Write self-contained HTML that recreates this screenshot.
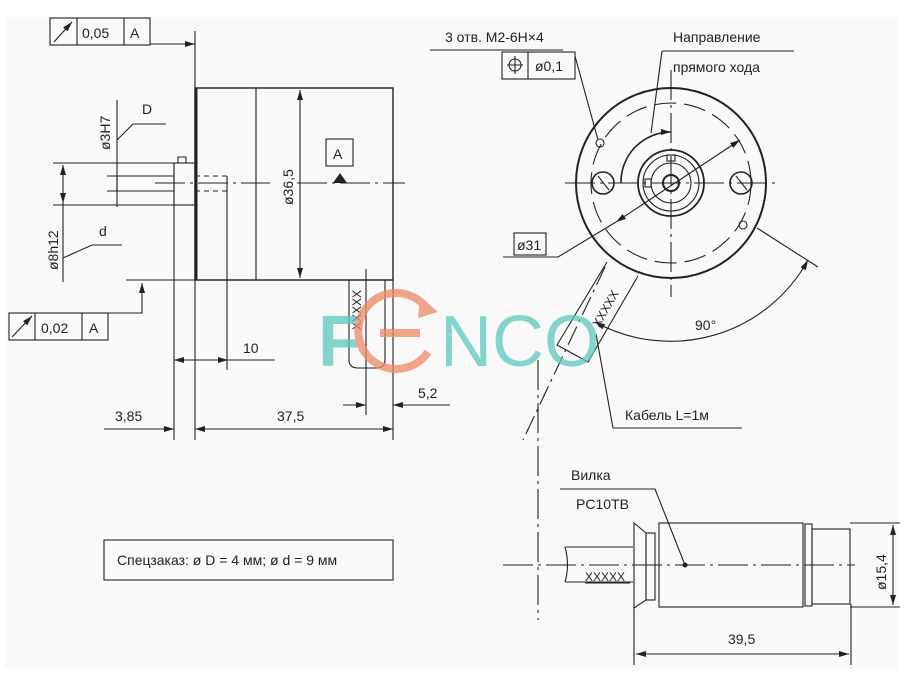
<!DOCTYPE html>
<html><head><meta charset="utf-8"><style>
html,body{margin:0;padding:0;background:#fff;}
svg{display:block;}
text{font-family:"Liberation Sans","DejaVu Sans",sans-serif;fill:#222;}
</style></head><body>
<svg width="912" height="678" viewBox="0 0 912 678" xmlns="http://www.w3.org/2000/svg">
<defs>
<marker id="ar" viewBox="0 0 10 6" refX="10" refY="3" markerWidth="10" markerHeight="6" orient="auto-start-reverse" markerUnits="userSpaceOnUse"><path d="M0,0L10,3L0,6z" fill="#222"/></marker>
</defs>
<rect x="5" y="17" width="893" height="652" fill="#f9f9f9"/>
<g stroke="#222" stroke-width="1.1" fill="none">
<!-- top frame -->
<rect x="50" y="18" width="100" height="27"/><line x1="77" y1="18" x2="77" y2="45"/><line x1="124" y1="18" x2="124" y2="45"/>
<line x1="54" y1="42" x2="72" y2="22" marker-end="url(#ar)"/>
<line x1="150" y1="44" x2="195" y2="44" marker-end="url(#ar)"/>
<line x1="195" y1="31" x2="195" y2="440"/>
<!-- body -->
<rect x="195" y="88" width="198" height="192" stroke-width="1.4"/>
<line x1="196" y1="88" x2="196" y2="280" stroke-width="3"/>
<line x1="256" y1="88" x2="256" y2="280"/>
<line x1="300" y1="90" x2="300" y2="278" marker-start="url(#ar)" marker-end="url(#ar)"/>
<rect x="326" y="139" width="27" height="27"/>
<line x1="155" y1="183" x2="270" y2="183" stroke-dasharray="30,5,3,5"/>
<line x1="297" y1="183" x2="405" y2="183" stroke-dasharray="30,5,3,5"/>
<!-- shaft -->
<rect x="174" y="163" width="21" height="42"/>
<path d="M178,163V157H186V163"/>
<line x1="107" y1="176" x2="174" y2="176"/><line x1="107" y1="191" x2="174" y2="191"/>
<path d="M195,176H228M195,191H228" stroke-dasharray="5,4"/>
<line x1="227" y1="176" x2="227" y2="370"/>
<!-- phi3H7 -->
<line x1="117" y1="100" x2="117" y2="207"/>
<line x1="117" y1="176" x2="117" y2="191"/>
<path d="M117,140L133,124H166"/>
<!-- phi8h12 -->
<line x1="53" y1="163" x2="174" y2="163"/><line x1="53" y1="205" x2="195" y2="205"/>
<line x1="63" y1="165" x2="63" y2="203" marker-start="url(#ar)" marker-end="url(#ar)"/>
<line x1="63" y1="203" x2="63" y2="282"/>
<path d="M63,258L92,245H122"/>
<line x1="126" y1="280" x2="195" y2="280"/>
<path d="M108,313H142V283" marker-end="url(#ar)"/>
<rect x="9" y="313" width="99" height="27"/><line x1="35" y1="313" x2="35" y2="340"/><line x1="82" y1="313" x2="82" y2="340"/>
<line x1="12" y1="337" x2="32" y2="316" marker-end="url(#ar)"/>
<line x1="174" y1="163" x2="174" y2="440"/>
<!-- dim 10 -->
<line x1="174" y1="360" x2="228" y2="360" marker-start="url(#ar)" marker-end="url(#ar)"/>
<line x1="228" y1="360" x2="275" y2="360"/>
<!-- cable tab -->
<path d="M349,280V360Q349,368 358,368H376Q385,368 385,360V280"/>
<line x1="366" y1="269" x2="366" y2="415"/>
<line x1="343" y1="405" x2="366" y2="405" marker-end="url(#ar)"/>
<line x1="393" y1="405" x2="450" y2="405" marker-start="url(#ar)"/>
<!-- 3,85 / 37,5 -->
<line x1="104" y1="429" x2="174" y2="429" marker-end="url(#ar)"/>
<line x1="195" y1="429" x2="393" y2="429" marker-start="url(#ar)" marker-end="url(#ar)"/>
<line x1="393" y1="280" x2="393" y2="440"/>
<!-- spec box -->
<rect x="104" y="540" width="289" height="40"/>
<!-- right view -->
<circle cx="671" cy="183" r="95" stroke-width="2"/>
<circle cx="671" cy="183" r="80" stroke-dasharray="22,8"/>
<circle cx="671" cy="183" r="33" stroke-width="1.8"/>
<circle cx="671" cy="183" r="28"/>
<circle cx="671" cy="183" r="20"/>
<circle cx="671" cy="183" r="8" stroke-width="2"/>
<rect x="667" y="155" width="8" height="6"/><rect x="645" y="179" width="6" height="8"/>
<circle cx="603" cy="183" r="11" stroke-width="1.6"/><line x1="598" y1="176" x2="609" y2="190"/>
<circle cx="741" cy="183" r="11" stroke-width="1.6"/><line x1="736" y1="176" x2="747" y2="190"/>
<circle cx="600" cy="143" r="4"/><circle cx="743" cy="225" r="4"/>
<line x1="565" y1="183" x2="780" y2="183" stroke-dasharray="30,5,3,5"/>
<line x1="671" y1="70" x2="671" y2="297" stroke-dasharray="30,5,3,5"/>
<line x1="430" y1="50" x2="563" y2="50"/>
<rect x="502" y="52" width="73" height="27"/><line x1="528" y1="52" x2="528" y2="79"/>
<circle cx="515" cy="65" r="6"/><path d="M507,65H523M515,56V74"/>
<line x1="575" y1="56" x2="598" y2="140"/>
<line x1="662" y1="51" x2="794" y2="51"/>
<path d="M662,51L651,133"/>
<path d="M621,183A50,50 0 0 1 671,132" marker-end="url(#ar)" stroke-width="1.6"/>
<rect x="514" y="233" width="32" height="22"/>
<path d="M503,257H558L616,222"/>
<line x1="616" y1="222" x2="740" y2="140" marker-start="url(#ar)" marker-end="url(#ar)"/>
<!-- cable -->
<path d="M607,262L557,345L588,362L638,276"/>
<line x1="605" y1="267" x2="523" y2="440" stroke-dasharray="20,5,3,5"/>
<line x1="538" y1="360" x2="538" y2="620" stroke-dasharray="30,5,3,5"/>
<line x1="757" y1="228" x2="818" y2="267"/>
<path d="M595,322A157,157 0 0 0 808,260" marker-start="url(#ar)" marker-end="url(#ar)"/>
<path d="M596,334L613,428H742"/>
<!-- bottom connector -->
<line x1="503" y1="565" x2="855" y2="565" stroke-dasharray="30,5,3,5"/>
<path d="M565,547H633M565,582H633M565,547Q570,565 565,582"/>
<path d="M634,523L646,533V600L634,608z"/>
<rect x="646" y="533" width="9" height="67"/>
<rect x="659" y="523" width="144" height="84"/>
<rect x="805" y="524" width="7" height="82"/>
<rect x="812" y="529" width="38" height="75"/>
<line x1="850" y1="523" x2="900" y2="523"/><line x1="850" y1="607" x2="900" y2="607"/>
<line x1="893" y1="525" x2="893" y2="605" marker-start="url(#ar)" marker-end="url(#ar)"/>
<line x1="634" y1="607" x2="634" y2="665"/><line x1="851" y1="604" x2="851" y2="665"/>
<line x1="636" y1="654" x2="849" y2="654" marker-start="url(#ar)" marker-end="url(#ar)"/>
<path d="M560,489H655L685,565"/>
<line x1="585" y1="583" x2="630" y2="583"/>
</g>
<circle cx="685" cy="565" r="2.5" fill="#222"/>
<path d="M333,183L340,173L347,183z" fill="#222"/>
<g font-size="14">
<text x="82" y="38">0,05</text><text x="130" y="38">A</text>
<text x="41" y="333">0,02</text><text x="89" y="333">A</text>
<text x="333" y="159">A</text>
<text x="142" y="114">D</text><text x="99" y="236">d</text>
<text transform="translate(110,150) rotate(-90)">ø3H7</text>
<text transform="translate(58,270) rotate(-90)">ø8h12</text>
<text transform="translate(293,205) rotate(-90)">ø36,5</text>
<text x="243" y="353">10</text><text x="418" y="398">5,2</text>
<text x="115" y="421">3,85</text><text x="277" y="421">37,5</text>
<text transform="translate(361,330) rotate(-90)" font-size="12">XXXXX</text>
<text x="117" y="565">Спецзаказ: ø D = 4 мм; ø d = 9 мм</text>
<text x="445" y="42">3 отв. M2-6H×4</text>
<text x="535" y="71">ø0,1</text>
<text x="673" y="42">Направление</text>
<text x="673" y="72">прямого хода</text>
<text x="517" y="250">ø31</text>
<text x="695" y="330">90°</text>
<text x="625" y="420">Кабель L=1м</text>
<text x="571" y="480">Вилка</text>
<text x="576" y="509">PC10TB</text>
<text x="585" y="581" font-size="12">XXXXX</text>
<text transform="translate(886,590) rotate(-90)">ø15,4</text>
<text x="728" y="644">39,5</text>
<text transform="translate(599,328) rotate(-60)" font-size="12">XXXXX</text>
</g>
<g opacity="0.75">
<text x="318" y="366" font-size="72" style="fill:#5cc8bd;font-weight:bold">F</text>
<path d="M428,310A38,38 0 1 0 428,352" stroke="#ee8a66" stroke-width="8" fill="none"/>
<path d="M380,333H420" stroke="#ee8a66" stroke-width="8"/>
<path d="M420,296L438,312L418,318z" fill="#ee8a66"/>
<text x="440" y="366" font-size="72" style="fill:#5cc8bd">NCO</text>
</g>
</svg>
</body></html>
